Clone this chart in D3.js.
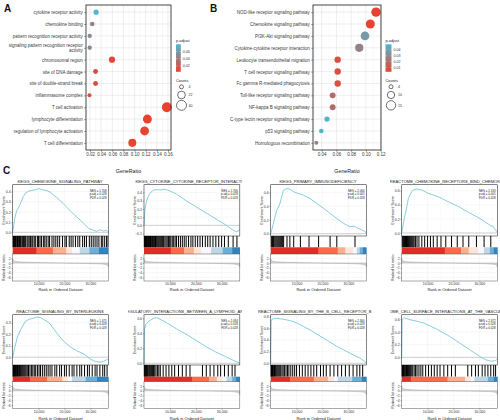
<!DOCTYPE html>
<html><head><meta charset="utf-8">
<script src="https://cdn.jsdelivr.net/npm/d3@7"></script>
<style>body{margin:0;background:#fff} text{font-family:"Liberation Sans",Arial,Helvetica,sans-serif}</style>
</head><body><svg id="c" width="500" height="420"></svg>
<script>
// ---------------- DATA: Panel A (GO) ----------------
const aTerms = ["cytokine receptor activity","chemokine binding","pattern recognition receptor activity","signaling pattern recognition receptor activity","chromosomal region","site of DNA damage","site of double-strand break","inflammasome complex","T cell activation","lymphocyte differentiation","regulation of lymphocyte activation","T cell differentiation"];
const aRatio = [0.031,0.024,0.0195,0.0195,0.0595,0.030,0.030,0.019,0.158,0.123,0.118,0.096];
const aCount = [8,6,5,5,13,7,7,4,40,31,30,24];
const aPadj  = [0.078,0.045,0.05,0.05,0.008,0.01,0.01,0.014,0.004,0.004,0.005,0.005];
const aTicks = [0.02,0.04,0.06,0.08,0.10,0.12,0.14,0.16];
const aColorTicks = [0.06,0.04,0.02];
const aSizeTicks = [4,22,40];
// ---------------- DATA: Panel B (KEGG) ----------------
const bTerms = ["NOD-like receptor signaling pathway","Chemokine signaling pathway","PI3K-Akt signaling pathway","Cytokine-cytokine receptor interaction","Leukocyte transendothelial migration","T cell receptor signaling pathway","Fc gamma R-mediated phagocytosis","Toll-like receptor signaling pathway","NF-kappa B signaling pathway","C-type lectin receptor signaling pathway","p53 signaling pathway","Homologous recombination"];
const bRatio = [0.1137,0.106,0.0988,0.091,0.0617,0.0617,0.0617,0.0549,0.0549,0.0472,0.0395,0.0327];
const bCount = [15,14,13,12,8,8,8,7,7,6,5,4];
const bPadj  = [0.003,0.003,0.038,0.028,0.008,0.008,0.008,0.019,0.019,0.048,0.048,0.028];
const bTicks = [0.04,0.06,0.08,0.10,0.12];
const bColorTicks = [0.04,0.03,0.02,0.01];
const bSizeTicks = [4,10,15];
// ---------------- DATA: Panel C (GSEA) ----------------
const gseaTitles = ["KEGG_CHEMOKINE_SIGNALING_PATHWAY","KEGG_CYTOKINE_CYTOKINE_RECEPTOR_INTERACTI","KEGG_PRIMARY_IMMUNODEFICIENCY","REACTOME_CHEMOKINE_RECEPTORS_BIND_CHEMOKI","REACTOME_SIGNALING_BY_INTERLEUKINS","EGULATORY_INTERACTIONS_BETWEEN_A_LYMPHOID_AN","REACTOME_SIGNALING_BY_THE_B_CELL_RECEPTOR_B","CTOME_CELL_SURFACE_INTERACTIONS_AT_THE_VASCUL"];
const gseaNES  = ["1.708","1.706","2.066","2.133","1.475","2.094","2.360","2.472"];
const gseaPadj = ["0.028","0.028","0.005","0.005","0.028","0.028","0.028","0.028"];
const gseaFDR  = ["0.028","0.028","0.028","0.028","0.028","0.028","0.028","0.028"];
const esTicks = [[0,0.1,0.2,0.3,0.4],[-0.1,0,0.1,0.2,0.3,0.4],[0,0.2,0.4,0.6],[0,0.2,0.4,0.6],[0,0.1,0.2,0.3],[0,0.2,0.4,0.6],[0,0.2,0.4,0.6,0.8],[0,0.2,0.4,0.6]];
const esDomains = [[-0.036,0.467],[-0.13,0.495],[-0.033,0.71],[-0.043,0.685],[-0.068,0.37],[-0.023,0.648],[-0.03,0.83],[-0.12,0.67]];
// running enrichment score: [fraction of ranked list, ES]
const es1 = [[0,0],[0.02,0.13],[0.04,0.21],[0.06,0.24],[0.08,0.28],[0.11,0.35],[0.14,0.39],[0.17,0.405],[0.2,0.41],[0.22,0.415],[0.25,0.42],[0.27,0.43],[0.3,0.42],[0.35,0.41],[0.39,0.395],[0.46,0.34],[0.53,0.28],[0.6,0.21],[0.67,0.15],[0.74,0.09],[0.79,0.04],[0.84,0.02],[0.88,0.01],[0.91,0.025],[0.95,0.012],[0.98,0.02],[1,0]];
const es2 = [[0,0],[0.01,0.2],[0.03,0.31],[0.06,0.39],[0.1,0.43],[0.14,0.435],[0.17,0.43],[0.21,0.44],[0.27,0.42],[0.34,0.38],[0.44,0.3],[0.58,0.2],[0.72,0.1],[0.86,0.0],[0.93,-0.06],[0.97,-0.08],[1,-0.05]];
const es3 = [[0,0],[0.01,0.05],[0.028,0.15],[0.063,0.34],[0.098,0.44],[0.115,0.54],[0.133,0.63],[0.168,0.654],[0.2,0.644],[0.238,0.61],[0.27,0.59],[0.34,0.56],[0.41,0.51],[0.48,0.44],[0.55,0.37],[0.62,0.295],[0.69,0.22],[0.76,0.15],[0.83,0.1],[0.87,0.11],[0.9,0.087],[0.97,0.044],[1,0.01]];
const es4 = [[0,0],[0.028,0.21],[0.053,0.37],[0.07,0.49],[0.105,0.59],[0.123,0.61],[0.158,0.624],[0.21,0.61],[0.28,0.56],[0.35,0.53],[0.42,0.49],[0.49,0.44],[0.6,0.37],[0.7,0.29],[0.81,0.21],[0.91,0.12],[0.93,0.1],[0.95,0.1],[0.965,0.066],[1,0.01]];
const es5 = [[0,0],[0.02,0.08],[0.05,0.18],[0.09,0.25],[0.13,0.31],[0.17,0.33],[0.22,0.34],[0.25,0.35],[0.29,0.345],[0.32,0.33],[0.36,0.31],[0.39,0.29],[0.46,0.21],[0.53,0.14],[0.6,0.09],[0.67,0.055],[0.74,0.03],[0.8,-0.01],[0.84,-0.03],[0.88,-0.04],[0.91,-0.043],[0.95,-0.035],[0.98,-0.023],[1,-0.02]];
const es6 = [[0,0],[0.005,0.45],[0.02,0.52],[0.05,0.56],[0.1,0.6],[0.13,0.61],[0.18,0.58],[0.25,0.53],[0.35,0.45],[0.45,0.38],[0.55,0.3],[0.65,0.22],[0.75,0.15],[0.85,0.09],[0.93,0.04],[1,0]];
const es7 = [[0,0],[0.005,0.74],[0.03,0.76],[0.06,0.77],[0.1,0.76],[0.14,0.75],[0.2,0.73],[0.27,0.69],[0.34,0.63],[0.41,0.57],[0.48,0.5],[0.55,0.43],[0.62,0.36],[0.69,0.29],[0.76,0.23],[0.83,0.17],[0.89,0.12],[0.94,0.08],[0.98,0.03],[1,0]];
const es8 = [[0,0],[0.005,0.6],[0.02,0.62],[0.05,0.61],[0.09,0.59],[0.15,0.57],[0.23,0.54],[0.3,0.49],[0.37,0.44],[0.44,0.38],[0.5,0.33],[0.57,0.26],[0.64,0.19],[0.71,0.12],[0.77,0.06],[0.83,0.0],[0.88,-0.04],[0.93,-0.06],[0.97,-0.055],[1,-0.03]];
// gene set hits (fraction of ranked list)
const hits1 = [0.003,0.008,0.012,0.018,0.025,0.03,0.036,0.045,0.05,0.058,0.066,0.072,0.08,0.088,0.1,0.108,0.115,0.125,0.135,0.15,0.16,0.172,0.185,0.2,0.21,0.225,0.24,0.26,0.27,0.285,0.3,0.32,0.335,0.35,0.37,0.385,0.41,0.43,0.45,0.47,0.49,0.52,0.545,0.56,0.59,0.61,0.63,0.655,0.68,0.7,0.73,0.75,0.77,0.8,0.82,0.84,0.86,0.88,0.9,0.925,0.94,0.96,0.98,0.995];
const hits2 = [0.003,0.007,0.011,0.015,0.02,0.024,0.029,0.034,0.04,0.045,0.05,0.056,0.062,0.068,0.075,0.082,0.09,0.097,0.105,0.112,0.12,0.128,0.137,0.146,0.155,0.165,0.175,0.185,0.195,0.205,0.218,0.23,0.242,0.255,0.268,0.28,0.295,0.31,0.325,0.34,0.36,0.38,0.4,0.42,0.44,0.465,0.49,0.51,0.535,0.56,0.585,0.61,0.64,0.665,0.69,0.72,0.75,0.78,0.81,0.84,0.88,0.93,0.97];
const hits3 = [0.005,0.012,0.02,0.028,0.035,0.045,0.055,0.065,0.075,0.085,0.095,0.105,0.115,0.125,0.135,0.17,0.2,0.24,0.31,0.4,0.5,0.62,0.69,0.88];
const hits4 = [0.005,0.012,0.02,0.03,0.04,0.05,0.06,0.07,0.08,0.09,0.1,0.11,0.12,0.13,0.145,0.16,0.18,0.21,0.24,0.27,0.3,0.33,0.37,0.41,0.46,0.52,0.58,0.64,0.7,0.78,0.86,0.93];
const hits5 = [0.003,0.008,0.013,0.018,0.024,0.03,0.036,0.042,0.05,0.057,0.064,0.072,0.08,0.09,0.1,0.11,0.12,0.13,0.14,0.152,0.165,0.18,0.195,0.21,0.225,0.24,0.258,0.275,0.29,0.31,0.33,0.35,0.37,0.39,0.41,0.44,0.46,0.49,0.51,0.54,0.56,0.59,0.62,0.64,0.67,0.7,0.72,0.75,0.78,0.8,0.83,0.86,0.88,0.91,0.94,0.96,0.985];
const hits6 = [0.003,0.008,0.014,0.02,0.027,0.035,0.043,0.052,0.06,0.07,0.08,0.09,0.1,0.112,0.125,0.14,0.155,0.17,0.2,0.23,0.26,0.29,0.32,0.36,0.4,0.44,0.48,0.61,0.65,0.69,0.73,0.77,0.8,0.84,0.88,0.92,0.95];
const hits7 = [0.003,0.008,0.013,0.019,0.025,0.032,0.04,0.048,0.056,0.065,0.075,0.085,0.095,0.105,0.118,0.13,0.145,0.16,0.175,0.19,0.21,0.23,0.25,0.27,0.3,0.33,0.36,0.39,0.42,0.45,0.48,0.52,0.55,0.58,0.62,0.66,0.7,0.74,0.78,0.82,0.86,0.9,0.93,0.96];
const hits8 = [0.003,0.008,0.014,0.02,0.027,0.034,0.042,0.05,0.06,0.07,0.08,0.09,0.1,0.115,0.13,0.145,0.16,0.18,0.2,0.22,0.25,0.28,0.31,0.34,0.37,0.4,0.44,0.48,0.52,0.56,0.69,0.73,0.77,0.8,0.84,0.87,0.9,0.93,0.96,0.98];
// colour strip breakpoints (fractions), one band per stripColors entry
const stripColors = ["#DE2D26","#FB6A4A","#FCAE91","#FEE5D9","#F7F7FF","#BDD7E7","#6BAED6","#3182BD"];
const strip1 = [0,0.25,0.42,0.56,0.62,0.7,0.8,0.9,1];
const strip2 = [0,0.28,0.42,0.52,0.6,0.7,0.82,0.92,1];
const strip3 = [0,0.5,0.7,0.78,0.86,0.9,0.93,0.96,1];
const strip4 = [0,0.45,0.62,0.7,0.8,0.86,0.92,0.96,1];
const strip5 = [0,0.18,0.36,0.52,0.58,0.62,0.76,0.88,1];
const strip6 = [0,0.5,0.68,0.76,0.82,0.86,0.92,0.96,1];
const strip7 = [0,0.2,0.45,0.6,0.66,0.7,0.85,0.95,1];
const strip8 = [0,0.1,0.48,0.66,0.72,0.76,0.9,0.96,1];
// ranked list metric (shared gene list): [fraction, metric]
const rankedMetric = [[0,1.8],[0.005,1.2],[0.02,0.8],[0.05,0.6],[0.1,0.45],[0.2,0.3],[0.3,0.2],[0.4,0.1],[0.5,0.03],[0.6,-0.05],[0.7,-0.12],[0.8,-0.2],[0.9,-0.32],[0.95,-0.45],[0.98,-0.7],[0.995,-1.2],[1,-1.6]];
const rankTicks = [10000,20000,30000];
const rankMax = 37000;
const metricTicks = [2,0,-2,-4,-6];

const esAll = [es1,es2,es3,es4,es5,es6,es7,es8];
const hitsAll = [hits1,hits2,hits3,hits4,hits5,hits6,hits7,hits8];
const stripAll = [strip1,strip2,strip3,strip4,strip5,strip6,strip7,strip8];

// ---------------- DRAWING ----------------
const svg = d3.select("#c");
const RED = "#E8432F", BLUE = "#4DB8D2";
const interp = d3.interpolateRgb(RED, BLUE);
const defs = svg.append("defs");

function dotPanel(o) {
  const g = svg.append("g");
  const x = d3.scaleLinear().domain(o.xDomain).range([o.x0, o.x1]);
  const y = d3.scalePoint().domain(o.terms).range([o.y0, o.y1]).padding(0.6);
  const r = d3.scaleSqrt().domain(o.sizeDomain).range(o.sizeRange);
  const ct = d3.scaleLinear().domain(o.colorDomain).range([0, 1]).clamp(true);
  const col = v => interp(ct(v));
  g.append("rect").attr("x", o.x0).attr("y", o.y0).attr("width", o.x1 - o.x0).attr("height", o.y1 - o.y0).attr("fill", "#fff");
  const t = o.xTicks, minors = [];
  for (let i = 0; i < t.length - 1; i++) minors.push((t[i] + t[i + 1]) / 2);
  minors.push(t[0] - (t[1] - t[0]) / 2, t[t.length - 1] + (t[1] - t[0]) / 2);
  const dom = x.domain();
  g.selectAll(".mn").data(minors.filter(v => v > dom[0] && v < dom[1])).join("line")
    .attr("x1", d => x(d)).attr("x2", d => x(d)).attr("y1", o.y0).attr("y2", o.y1)
    .attr("stroke", "#f0f0f0").attr("stroke-width", 0.4);
  g.selectAll(".mj").data(t.filter(v => v >= dom[0] && v <= dom[1])).join("line")
    .attr("x1", d => x(d)).attr("x2", d => x(d)).attr("y1", o.y0).attr("y2", o.y1)
    .attr("stroke", "#e3e3e3").attr("stroke-width", 0.6);
  g.selectAll(".hy").data(o.terms).join("line")
    .attr("x1", o.x0).attr("x2", o.x1).attr("y1", d => y(d)).attr("y2", d => y(d))
    .attr("stroke", "#e3e3e3").attr("stroke-width", 0.6);
  g.selectAll("circle.pt").data(o.terms).join("circle").attr("class", "pt")
    .attr("cx", (d, i) => x(o.ratio[i])).attr("cy", d => y(d))
    .attr("r", (d, i) => r(o.count[i])).attr("fill", (d, i) => col(o.padj[i]));
  g.append("rect").attr("x", o.x0).attr("y", o.y0).attr("width", o.x1 - o.x0).attr("height", o.y1 - o.y0)
    .attr("fill", "none").attr("stroke", "#333").attr("stroke-width", 0.9);
  // axes
  const ax = g.append("g").attr("transform", `translate(0,${o.y1})`)
    .call(d3.axisBottom(x).tickValues(o.xTicks).tickSize(1.8).tickPadding(1).tickFormat(d3.format(".2f")));
  ax.select(".domain").remove();
  ax.selectAll("line").attr("stroke", "#333").attr("stroke-width", 0.5);
  ax.selectAll("text").attr("font-size", 4.5).attr("fill", "#3a3a3a").attr("font-family", null);
  const ay = g.append("g").attr("transform", `translate(${o.x0},0)`)
    .call(d3.axisLeft(y).tickSize(1.8).tickPadding(1.4));
  ay.select(".domain").remove();
  ay.selectAll("line").attr("stroke", "#333").attr("stroke-width", 0.5);
  ay.selectAll("text").attr("font-size", 4.5).attr("fill", "#3a3a3a").attr("font-family", null)
    .each(function (d) {
      if (d.length > 40) {
        const s = d3.select(this), words = d.split(" ");
        const l1 = words.slice(0, -1).join(" "), l2 = words[words.length - 1];
        s.text(null);
        s.append("tspan").attr("x", -3.2).attr("dy", "-0.22em").text(l1);
        s.append("tspan").attr("x", -3.2).attr("dy", "1.05em").text(l2);
      }
    });
  g.append("text").attr("x", (o.x0 + o.x1) / 2).attr("y", o.y1 + 22.5).attr("text-anchor", "middle")
    .attr("font-size", 5.3).attr("fill", "#222").text("GeneRatio");
  // colour legend
  const gid = "grad" + o.id;
  const gr = defs.append("linearGradient").attr("id", gid).attr("x1", 0).attr("y1", 1).attr("x2", 0).attr("y2", 0);
  d3.range(0, 1.0001, 0.1).forEach(s => gr.append("stop").attr("offset", s).attr("stop-color", interp(s)));
  g.append("text").attr("x", o.lx).attr("y", 42).attr("font-size", 3.9).attr("fill", "#222").text("p.adjust");
  g.append("rect").attr("x", o.lx).attr("y", 44.3).attr("width", o.bw).attr("height", 27.5).attr("fill", `url(#${gid})`);
  const lb = d3.scaleLinear().domain(o.colorDomain).range([71.8, 44.3]);
  o.colorTicks.forEach(v => {
    g.append("line").attr("x1", o.lx).attr("x2", o.lx + 1.2).attr("y1", lb(v)).attr("y2", lb(v)).attr("stroke", "#fff").attr("stroke-width", 0.4);
    g.append("line").attr("x1", o.lx + o.bw - 1.2).attr("x2", o.lx + o.bw).attr("y1", lb(v)).attr("y2", lb(v)).attr("stroke", "#fff").attr("stroke-width", 0.4);
    g.append("text").attr("x", o.lx + o.bw + 2).attr("y", lb(v) + 1.3).attr("font-size", 3.6).attr("fill", "#333").text(d3.format(".2f")(v));
  });
  g.append("text").attr("x", o.lx).attr("y", 82).attr("font-size", 3.9).attr("fill", "#222").text("Counts");
  o.sizeTicks.forEach((v, i) => {
    const cy = [86.8, 95, 105.3][i];
    g.append("circle").attr("cx", o.lx + 5.5).attr("cy", cy).attr("r", r(v)).attr("fill", "#fff").attr("stroke", "#111").attr("stroke-width", 0.6);
    g.append("text").attr("x", o.lx + 12.5).attr("y", cy + 1.3).attr("font-size", 3.6).attr("fill", "#333").text(v);
  });
}

dotPanel({id: "A", terms: aTerms, ratio: aRatio, count: aCount, padj: aPadj, xTicks: aTicks,
  xDomain: [0.0128, 0.1654], x0: 86, x1: 171, y0: 5, y1: 150, sizeDomain: [4, 40], sizeRange: [2, 5],
  colorDomain: [0.004, 0.080], colorTicks: aColorTicks, sizeTicks: aSizeTicks, lx: 176, bw: 4.8});
dotPanel({id: "B", terms: bTerms, ratio: bRatio, count: bCount, padj: bPadj, xTicks: bTicks,
  xDomain: [0.0282, 0.1205], x0: 313, x1: 381, y0: 5, y1: 150, sizeDomain: [4, 15], sizeRange: [2, 4.7],
  colorDomain: [0.0024, 0.0498], colorTicks: bColorTicks, sizeTicks: bSizeTicks, lx: 385.5, bw: 6});

// panel letters
[["A", 4, 12], ["B", 210, 12], ["C", 3, 173.5]].forEach(([t, x, y]) =>
  svg.append("text").attr("x", x).attr("y", y).attr("font-size", 10).attr("font-weight", "bold").attr("fill", "#111").text(t));

// ---------------- GSEA panels ----------------
const colX = [12.7, 144, 270.7, 401.7];
const boxW = 95.8;
const titleCX = [60, 189, 318, 445.5, 60, 185, 314.7, 442.6];
const cellClip = [[0, 128], [128, 242], [258, 388], [390, 500]];
const rows = [
  {title: 182.9, esTop: 184.7, esBot: 236, hitBot: 247.3, stripBot: 254, rankBot: 281, tick: 285.6, lab: 290.6},
  {title: 312.9, esTop: 314.7, esBot: 365, hitBot: 376.7, stripBot: 381.7, rankBot: 408.7, tick: 415.3, lab: 420.3}
];

function gsea(i) {
  const cx = colX[i % 4], R = rows[Math.floor(i / 4)];
  const g = svg.append("g");
  const xf = d3.scaleLinear().domain([0, 1]).range([cx, cx + boxW]);
  const xr = d3.scaleLinear().domain([0, rankMax]).range([cx, cx + boxW]);
  const y = d3.scaleLinear().domain(esDomains[i]).range([R.esBot, R.esTop]);
  const ym = d3.scaleLinear().domain([-7.5, 3.8]).range([R.rankBot, R.stripBot]);
  const grid = "#ececec";
  const cid = "clip" + i;
  defs.append("clipPath").attr("id", cid).append("rect").attr("x", cellClip[i % 4][0]).attr("y", R.title - 6).attr("width", cellClip[i % 4][1] - cellClip[i % 4][0]).attr("height", 8);
  g.append("text").attr("clip-path", `url(#${cid})`).attr("x", titleCX[i]).attr("y", R.title).attr("text-anchor", "middle")
    .attr("font-size", 4.1).attr("fill", "#222").text(gseaTitles[i]);
  const minorR = [5000, 15000, 25000, 35000];
  minorR.forEach(v => g.append("line").attr("x1", xr(v)).attr("x2", xr(v)).attr("y1", R.esTop).attr("y2", R.esBot).attr("stroke", "#f4f4f4").attr("stroke-width", 0.3));
  rankTicks.forEach(v => g.append("line").attr("x1", xr(v)).attr("x2", xr(v)).attr("y1", R.esTop).attr("y2", R.esBot).attr("stroke", grid).attr("stroke-width", 0.45));
  esTicks[i].forEach(v => g.append("line").attr("x1", cx).attr("x2", cx + boxW).attr("y1", y(v)).attr("y2", y(v)).attr("stroke", v === 0 ? "#9a9a9a" : grid).attr("stroke-width", v === 0 ? 0.5 : 0.45));
  g.append("path").datum(esAll[i]).attr("d", d3.line().x(d => xf(d[0])).y(d => y(d[1])))
    .attr("fill", "none").attr("stroke", "#72C4D9").attr("stroke-width", 0.85);
  g.append("rect").attr("x", cx).attr("y", R.esTop).attr("width", boxW).attr("height", R.esBot - R.esTop)
    .attr("fill", "none").attr("stroke", "#333").attr("stroke-width", 0.6);
  const ay = g.append("g").attr("transform", `translate(${cx},0)`)
    .call(d3.axisLeft(y).tickValues(esTicks[i]).tickSize(1.2).tickPadding(0.8).tickFormat(d3.format(".1f")));
  ay.select(".domain").remove();
  ay.selectAll("line").attr("stroke", "#333").attr("stroke-width", 0.4);
  ay.selectAll("text").attr("font-size", 3.5).attr("fill", "#333").attr("font-family", null);
  g.append("text").attr("transform", `translate(${cx - 8.2},${(R.esTop + R.esBot) / 2}) rotate(-90)`)
    .attr("text-anchor", "middle").attr("font-size", 3.6).attr("fill", "#222").text("Enrichment Score");
  [["NES = " + gseaNES[i], 6.9], ["p.adj = " + gseaPadj[i], 10.4], ["FDR = " + gseaFDR[i], 13.9]].forEach(([t, dy]) =>
    g.append("text").attr("x", cx + boxW - 2).attr("y", R.esTop + dy).attr("text-anchor", "end").attr("font-size", 2.9).attr("fill", "#222").text(t));
  g.selectAll(".hit").data(hitsAll[i]).join("line")
    .attr("x1", d => xf(d)).attr("x2", d => xf(d)).attr("y1", R.esBot).attr("y2", R.hitBot)
    .attr("stroke", "#000").attr("stroke-width", 1.0);
  const sb = stripAll[i];
  g.selectAll(".strip").data(stripColors).join("rect")
    .attr("x", (d, k) => xf(sb[k])).attr("width", (d, k) => xf(sb[k + 1]) - xf(sb[k]) + 0.2)
    .attr("y", R.hitBot).attr("height", R.stripBot - R.hitBot).attr("fill", d => d);
  minorR.forEach(v => g.append("line").attr("x1", xr(v)).attr("x2", xr(v)).attr("y1", R.stripBot).attr("y2", R.rankBot).attr("stroke", "#f4f4f4").attr("stroke-width", 0.3));
  rankTicks.forEach(v => g.append("line").attr("x1", xr(v)).attr("x2", xr(v)).attr("y1", R.stripBot).attr("y2", R.rankBot).attr("stroke", grid).attr("stroke-width", 0.45));
  metricTicks.forEach(v => g.append("line").attr("x1", cx).attr("x2", cx + boxW).attr("y1", ym(v)).attr("y2", ym(v)).attr("stroke", grid).attr("stroke-width", 0.45));
  g.append("path").datum(rankedMetric).attr("d", d3.area().x(d => xf(d[0])).y0(ym(0)).y1(d => ym(d[1])))
    .attr("fill", "#d4d4d4").attr("stroke", "#a0a0a0").attr("stroke-width", 0.4);
  g.append("rect").attr("x", cx).attr("y", R.stripBot).attr("width", boxW).attr("height", R.rankBot - R.stripBot)
    .attr("fill", "none").attr("stroke", "#555").attr("stroke-width", 0.5);
  const am = g.append("g").attr("transform", `translate(${cx},0)`)
    .call(d3.axisLeft(ym).tickValues(metricTicks).tickSize(1.2).tickPadding(0.8));
  am.select(".domain").remove();
  am.selectAll("line").attr("stroke", "#333").attr("stroke-width", 0.4);
  am.selectAll("text").attr("font-size", 3.3).attr("fill", "#333").attr("font-family", null);
  g.append("text").attr("transform", `translate(${cx - 8.2},${(R.stripBot + R.rankBot) / 2}) rotate(-90)`)
    .attr("text-anchor", "middle").attr("font-size", 3.4).attr("fill", "#222").text("Ranked list metric");
  const ax = g.append("g").attr("transform", `translate(0,${R.rankBot})`)
    .call(d3.axisBottom(xr).tickValues(rankTicks).tickSize(1.2).tickPadding(0.6));
  ax.select(".domain").remove();
  ax.selectAll("line").attr("stroke", "#333").attr("stroke-width", 0.4);
  ax.selectAll("text").attr("font-size", 3.5).attr("fill", "#333").attr("font-family", null);
  g.append("text").attr("x", cx + boxW / 2).attr("y", R.lab).attr("text-anchor", "middle")
    .attr("font-size", 4).attr("fill", "#222").text("Rank in Ordered Dataset");
}
for (let i = 0; i < 8; i++) gsea(i);
</script></body></html>
